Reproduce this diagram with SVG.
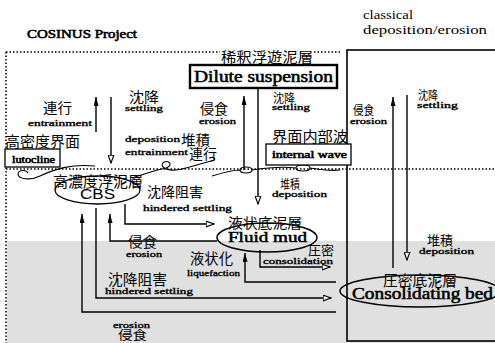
<svg xmlns="http://www.w3.org/2000/svg" width="495" height="343" viewBox="0 0 495 343">
<style>
.en{font-family:"Liberation Serif",serif;font-weight:400;fill:#000;stroke:#000;stroke-width:0.55}
.sm{font-family:"Liberation Serif",serif;font-weight:400;font-size:8.5px;fill:#000;stroke:#000;stroke-width:0.35}
.pl{font-family:"Liberation Serif",serif;fill:#000}
.jp{font-family:"Noto Sans CJK JP",sans-serif;fill:#000}
.ln{fill:none;stroke:#000;stroke-width:1.4}
.dot{fill:none;stroke:#000;stroke-width:1.5;stroke-dasharray:1.5 2}
.up{marker-end:url(#fh)}
.op{marker-end:url(#oh)}
</style>
<defs>
<marker id="fh" viewBox="0 0 9 5" refX="9" refY="2.5" markerWidth="9" markerHeight="5" orient="auto" markerUnits="userSpaceOnUse"><path d="M0,0 L9,2.5 L0,5 z" fill="#000"/></marker>
<marker id="oh" viewBox="0 0 9 7" refX="8.5" refY="3.5" markerWidth="9" markerHeight="7" orient="auto" markerUnits="userSpaceOnUse"><path d="M0.6,0.6 L8.4,3.5 L0.6,6.4 z" fill="#fff" stroke="#000" stroke-width="1.1"/></marker>
</defs>
<rect width="495" height="343" fill="#fff"/>
<rect x="7" y="241" width="488" height="102" fill="#e0e0e0"/>
<g id="frame">
<path class="dot" d="M6,52 H220 M314,52 H340 M6,52 V343 M6,169 H495"/>
<rect x="347" y="50" width="160" height="291" fill="none" stroke="#000" stroke-width="1.6"/>
<text class="en" x="27" y="38" font-size="11.5" textLength="110" lengthAdjust="spacingAndGlyphs">COSINUS Project</text>
<text class="pl" x="363" y="19" font-size="13" textLength="50" lengthAdjust="spacingAndGlyphs">classical</text>
<text class="pl" x="363" y="34" font-size="13" textLength="124" lengthAdjust="spacingAndGlyphs">deposition/erosion</text>
</g>
<g id="wave" fill="none" stroke="#000" stroke-width="1.1">
<path d="M28,173 C26,169 18,170 18,174 C18,179 30,181 40,176 C55,169 70,164 95,166"/>
<path d="M132,178 C145,174 155,170 166,168 C173,166 170,160 164,162 C159,165 164,171 176,170 C192,168 200,163 212,161 C217,160 215,156 209,158"/>
<path d="M212,176 C225,172 232,170 240,170 C240,166 252,166 252,170 C252,174 240,174 240,170 M252,170 C265,168 280,166 296,168 C296,164 310,164 310,168 C310,172 296,172 296,168 M310,168 C322,170 332,171 340,170"/>
</g>
<g id="connectors">
<path class="ln up" d="M96,132 V97"/>
<path class="ln op" d="M111,97 V163"/>
<path class="ln up" d="M244,170 V96"/>
<path class="ln op" d="M258,88 V204"/>
<path class="ln up" d="M393,268 V97"/>
<path class="ln op" d="M407,95 V260"/>
<path class="ln up" d="M336,312 H82 V214"/>
<path class="ln op" d="M96,208 V298 H331"/>
<path class="ln up" d="M217,241 H110 V214"/>
<path class="ln op" d="M125,204 V224 H214"/>
<path class="ln op" d="M260,250 V267 H330"/>
<path class="ln up" d="M336,282 H245 V253"/>
</g>
<g id="labels">
<text class="jp" x="43" y="113" font-size="14" textLength="29" lengthAdjust="spacingAndGlyphs">連行</text>
<text class="sm" x="28" y="126" textLength="64" lengthAdjust="spacingAndGlyphs">entrainment</text>
<text class="jp" x="129" y="102" font-size="14" textLength="30" lengthAdjust="spacingAndGlyphs">沈降</text>
<text class="sm" x="125" y="111" textLength="38" lengthAdjust="spacingAndGlyphs">settling</text>
<text class="jp" x="200" y="114" font-size="13.5" textLength="28" lengthAdjust="spacingAndGlyphs">侵食</text>
<text class="sm" x="199" y="124" textLength="37" lengthAdjust="spacingAndGlyphs">erosion</text>
<text class="sm" x="125" y="142" textLength="55" lengthAdjust="spacingAndGlyphs">deposition</text>
<text class="jp" x="181" y="145" font-size="14" textLength="29" lengthAdjust="spacingAndGlyphs">堆積</text>
<text class="sm" x="125" y="155" textLength="63" lengthAdjust="spacingAndGlyphs">entrainment</text>
<text class="jp" x="189" y="159" font-size="14" textLength="28" lengthAdjust="spacingAndGlyphs">連行</text>
<text class="jp" x="273" y="103" font-size="12" textLength="22" lengthAdjust="spacingAndGlyphs">沈降</text>
<text class="sm" x="272" y="110" font-size="8" textLength="38" lengthAdjust="spacingAndGlyphs">settling</text>
<text class="jp" x="280" y="189" font-size="12" textLength="20" lengthAdjust="spacingAndGlyphs">堆積</text>
<text class="sm" x="272" y="197" textLength="55" lengthAdjust="spacingAndGlyphs">deposition</text>
<text class="jp" x="147" y="197" font-size="14" textLength="56" lengthAdjust="spacingAndGlyphs">沈降阻害</text>
<text class="sm" x="143" y="211" textLength="89" lengthAdjust="spacingAndGlyphs">hindered settling</text>
<text class="jp" x="128" y="247" font-size="13.5" textLength="29" lengthAdjust="spacingAndGlyphs">侵食</text>
<text class="sm" x="126" y="257" textLength="36" lengthAdjust="spacingAndGlyphs">erosion</text>
<text class="jp" x="190" y="264" font-size="15" textLength="43" lengthAdjust="spacingAndGlyphs">液状化</text>
<text class="sm" x="187" y="276" textLength="53" lengthAdjust="spacingAndGlyphs">liquefaction</text>
<text class="jp" x="308" y="255" font-size="13" textLength="26" lengthAdjust="spacingAndGlyphs">圧密</text>
<text class="sm" x="263" y="264" textLength="70" lengthAdjust="spacingAndGlyphs">consolidation</text>
<text class="jp" x="108" y="285" font-size="15" textLength="59" lengthAdjust="spacingAndGlyphs">沈降阻害</text>
<text class="sm" x="105" y="294" textLength="88" lengthAdjust="spacingAndGlyphs">hindered settling</text>
<text class="sm" x="113" y="328" textLength="37" lengthAdjust="spacingAndGlyphs">erosion</text>
<text class="jp" x="118" y="340" font-size="12.5" textLength="29" lengthAdjust="spacingAndGlyphs">侵食</text>
<text class="jp" x="353" y="115" font-size="12" textLength="21" lengthAdjust="spacingAndGlyphs">侵食</text>
<text class="sm" x="350" y="124" font-size="8" textLength="37" lengthAdjust="spacingAndGlyphs">erosion</text>
<text class="jp" x="418" y="100" font-size="12" textLength="20" lengthAdjust="spacingAndGlyphs">沈降</text>
<text class="sm" x="417" y="108" font-size="8" textLength="41" lengthAdjust="spacingAndGlyphs">settling</text>
<text class="jp" x="427" y="245" font-size="13" textLength="26" lengthAdjust="spacingAndGlyphs">堆積</text>
<text class="sm" x="419" y="254" textLength="55" lengthAdjust="spacingAndGlyphs">deposition</text>
</g>
<g id="dilute">
<rect x="190" y="65" width="147" height="23" fill="#fff" stroke="#000" stroke-width="2.4"/>
<text class="jp" x="221" y="62" font-size="14" textLength="92" lengthAdjust="spacingAndGlyphs">稀釈浮遊泥層</text>
<text class="en" x="194" y="82" font-size="16" textLength="139" lengthAdjust="spacingAndGlyphs">Dilute suspension</text>
</g>
<g id="lutocline">
<text class="jp" x="5" y="147" font-size="15" textLength="75" lengthAdjust="spacingAndGlyphs">高密度界面</text>
<rect x="5" y="149" width="55" height="18" fill="#fff" stroke="#000" stroke-width="1.3"/>
<text class="en" x="12" y="163" font-size="9.5" textLength="43" lengthAdjust="spacingAndGlyphs">lutocline</text>
</g>
<g id="internalwave">
<text class="jp" x="272" y="142" font-size="15" textLength="76" lengthAdjust="spacingAndGlyphs">界面内部波</text>
<rect x="266" y="144" width="85" height="21" fill="#fff" stroke="#000" stroke-width="1.3"/>
<text class="en" x="272" y="158" font-size="9.5" textLength="75" lengthAdjust="spacingAndGlyphs">internal wave</text>
</g>
<g id="cbs">
<ellipse cx="97.5" cy="190" rx="42.5" ry="14" fill="none" stroke="#000" stroke-width="1.3"/>
<text class="jp" x="53" y="187" font-size="15" textLength="90" lengthAdjust="spacingAndGlyphs">高濃度浮泥層</text>
<text x="80" y="199" font-family="Liberation Sans,sans-serif" font-size="15" textLength="35" lengthAdjust="spacingAndGlyphs">CBS</text>
</g>
<g id="fluidmud">
<ellipse cx="267" cy="237.5" rx="50" ry="14.5" fill="none" stroke="#000" stroke-width="1.4"/>
<text class="jp" x="228" y="228" font-size="14" textLength="74" lengthAdjust="spacingAndGlyphs">液状底泥層</text>
<text class="en" x="228" y="242" font-size="15" textLength="79" lengthAdjust="spacingAndGlyphs">Fluid mud</text>
</g>
<g id="consolidatingbed">
<ellipse cx="420" cy="291" rx="80" ry="16" fill="none" stroke="#000" stroke-width="1.5"/>
<text class="jp" x="383" y="286" font-size="15" textLength="74" lengthAdjust="spacingAndGlyphs">圧密底泥層</text>
<text class="en" x="352" y="299" font-size="17" textLength="141" lengthAdjust="spacingAndGlyphs">Consolidating bed</text>
</g>
</svg>
